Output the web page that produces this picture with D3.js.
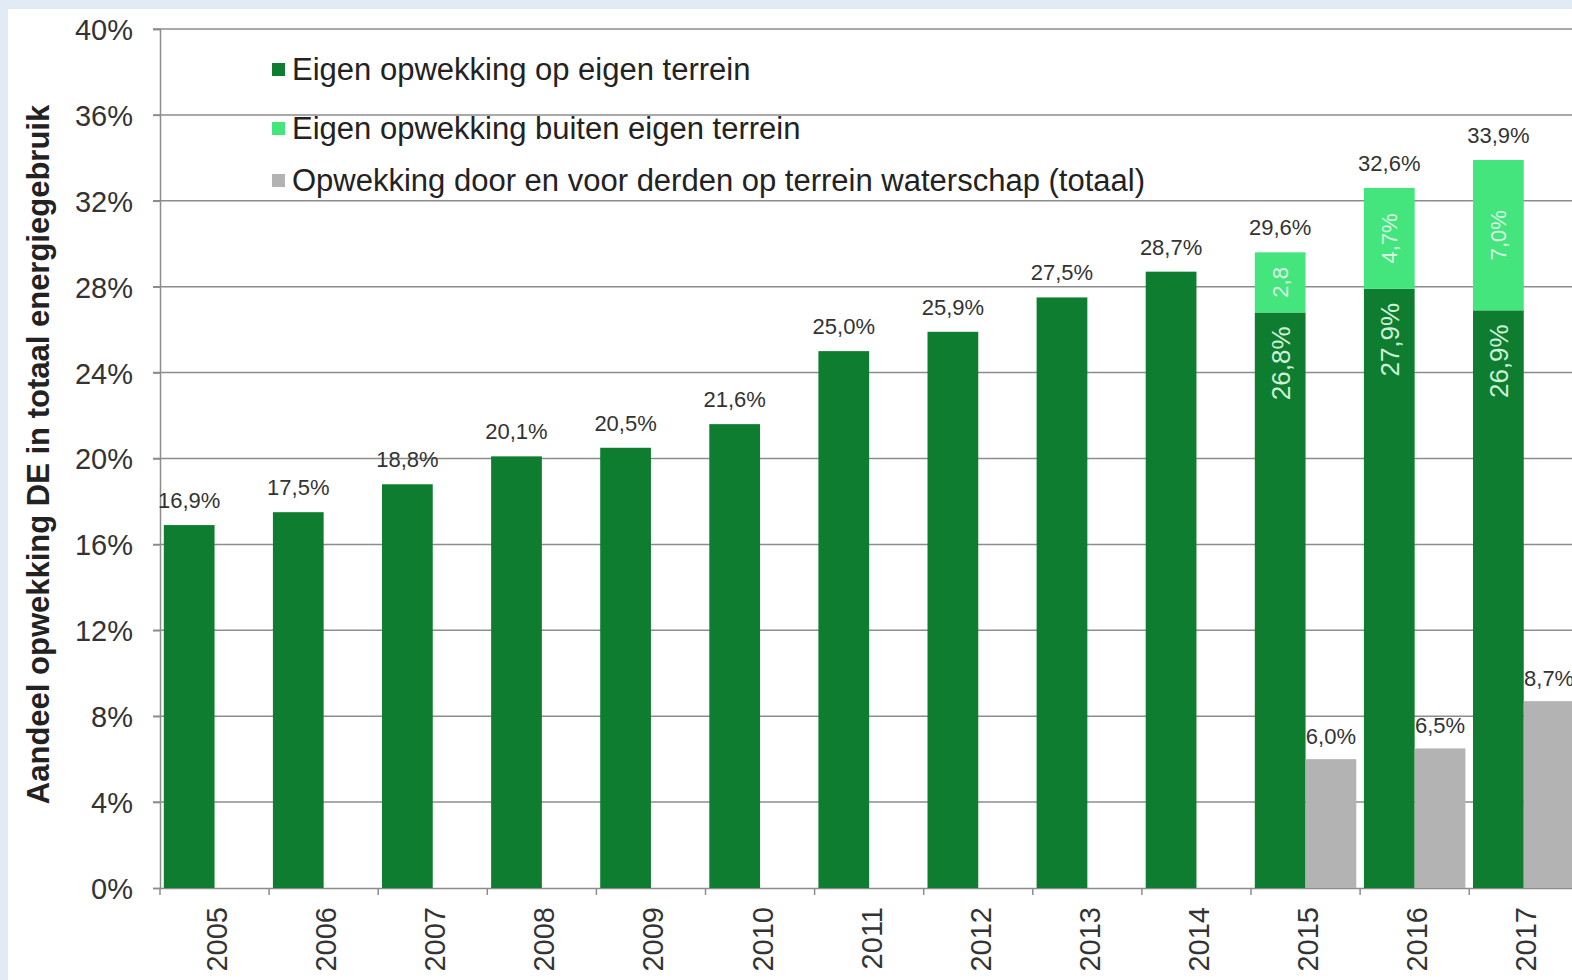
<!DOCTYPE html>
<html>
<head>
<meta charset="utf-8">
<script src="https://cdn.jsdelivr.net/npm/d3@7"></script>
<style>
  body { margin: 0; background: #e0ebf5; }
  svg { display: block; font-family: "Liberation Sans", Arial, sans-serif; }
</style>
</head>
<body>
<div id="chart"></div>
<script>
// data
const years = ['2005','2006','2007','2008','2009','2010','2011','2012','2013','2014','2015','2016','2017'];
const eigenTerrein = [16.9, 17.5, 18.8, 20.1, 20.5, 21.6, 25.0, 25.9, 27.5, 28.7, 26.8, 27.9, 26.9];
const buitenTerrein = [0, 0, 0, 0, 0, 0, 0, 0, 0, 0, 2.8, 4.7, 7.0];
const derden = [null, null, null, null, null, null, null, null, null, null, 6.0, 6.5, 8.7];
const yTicks = [0, 4, 8, 12, 16, 20, 24, 28, 32, 36, 40];
const legendLabels = [
  'Eigen opwekking op eigen terrein',
  'Eigen opwekking buiten eigen terrein',
  'Opwekking door en voor derden op terrein waterschap (totaal)'
];
const colors = ['#0f7d30', '#45e57e', '#b3b3b3'];

const fmt = v => v.toFixed(1).replace('.', ',');

const width = 1572, height = 980;
const margin = { top: 29, left: 160, bottom: 92 };

const svg = d3.select('#chart')
  .append('svg')
  .attr('width', width)
  .attr('height', height);

svg.append('rect')
  .attr('x', 8).attr('y', 9)
  .attr('width', width - 8).attr('height', height - 9)
  .attr('fill', '#fff');

const x = d3.scaleBand()
  .domain(years)
  .range([margin.left, margin.left + 109.1 * years.length]);

const inner = d3.scaleBand()
  .domain(['a', 'b'])
  .range([0, x.bandwidth()])
  .paddingOuter(0.075)
  .paddingInner(0);

const y = d3.scaleLinear()
  .domain([0, 40])
  .range([height - margin.bottom, margin.top]);

// gridlines
svg.append('g')
  .selectAll('line')
  .data(yTicks.slice(1))
  .join('line')
  .attr('x1', margin.left - 7)
  .attr('x2', width)
  .attr('y1', d => y(d))
  .attr('y2', d => y(d))
  .attr('stroke', '#8c8c8c')
  .attr('stroke-width', 1.5);

// y axis
const yAxis = svg.append('g')
  .attr('transform', `translate(${margin.left},0)`)
  .call(d3.axisLeft(y).tickValues(yTicks).tickSize(7).tickPadding(20).tickFormat(d => d + '%'));
yAxis.select('.domain').attr('stroke', '#8c8c8c').attr('stroke-width', 1.5);
yAxis.selectAll('.tick line').attr('stroke', '#8c8c8c').attr('stroke-width', 1.5);
yAxis.selectAll('.tick text')
  .attr('fill', '#333')
  .style('font-size', '29px')
  .attr('dy', '0.36em');

// x axis
const xAxis = svg.append('g')
  .attr('transform', `translate(0,${y(0)})`)
  .call(d3.axisBottom(x).tickSize(0).tickSizeOuter(0));
xAxis.select('.domain').attr('stroke', '#8c8c8c').attr('stroke-width', 1.5);
xAxis.selectAll('.tick text')
  .attr('fill', '#333')
  .style('font-size', '29px')
  .attr('text-anchor', 'end')
  .attr('transform', 'rotate(-90)')
  .attr('x', -19)
  .attr('y', 2)
  .attr('dy', '0.36em');

// x tick marks between categories
svg.append('g')
  .selectAll('line')
  .data(years)
  .join('line')
  .attr('x1', d => x(d))
  .attr('x2', d => x(d))
  .attr('y1', y(0))
  .attr('y2', y(0) + 7)
  .attr('stroke', '#8c8c8c')
  .attr('stroke-width', 1.5);

const rows = years.map((yr, i) => ({
  year: yr,
  own: eigenTerrein[i],
  outside: buitenTerrein[i],
  third: derden[i]
}));

const bars = svg.append('g');

// dark green segment
bars.selectAll('.own')
  .data(rows)
  .join('rect')
  .attr('x', d => x(d.year) + inner('a'))
  .attr('width', inner.bandwidth())
  .attr('y', d => y(d.own))
  .attr('height', d => y(0) - y(d.own))
  .attr('fill', colors[0]);

// light green segment
bars.selectAll('.outside')
  .data(rows.filter(d => d.outside > 0))
  .join('rect')
  .attr('x', d => x(d.year) + inner('a'))
  .attr('width', inner.bandwidth())
  .attr('y', d => y(d.own + d.outside))
  .attr('height', d => y(d.own) - y(d.own + d.outside))
  .attr('fill', colors[1]);

// grey bars
bars.selectAll('.third')
  .data(rows.filter(d => d.third != null))
  .join('rect')
  .attr('x', d => x(d.year) + inner('b'))
  .attr('width', inner.bandwidth())
  .attr('y', d => y(d.third))
  .attr('height', d => y(0) - y(d.third))
  .attr('fill', colors[2]);

// total labels
svg.append('g')
  .selectAll('text')
  .data(rows)
  .join('text')
  .attr('x', d => x(d.year) + inner('a') + inner.bandwidth() / 2)
  .attr('y', d => y(d.own + d.outside) - 17)
  .attr('text-anchor', 'middle')
  .attr('fill', '#333')
  .style('font-size', '22px')
  .text(d => fmt(d.own + d.outside) + '%');

// grey labels
svg.append('g')
  .selectAll('text')
  .data(rows.filter(d => d.third != null))
  .join('text')
  .attr('x', d => x(d.year) + inner('b') + inner.bandwidth() / 2)
  .attr('y', d => y(d.third) - 15)
  .attr('text-anchor', 'middle')
  .attr('fill', '#333')
  .style('font-size', '22px')
  .text(d => fmt(d.third) + '%');

// rotated labels inside stacked bars
const stacked = rows.filter(d => d.outside > 0);
svg.append('g')
  .selectAll('text')
  .data(stacked)
  .join('text')
  .attr('transform', d => `translate(${x(d.year) + inner('a') + inner.bandwidth() / 2},${y(d.own) + 14}) rotate(-90)`)
  .attr('text-anchor', 'end')
  .attr('dy', '0.36em')
  .attr('fill', '#cdf3d6')
  .style('font-size', '26px')
  .text(d => fmt(d.own) + '%');

svg.append('g')
  .selectAll('text')
  .data(stacked)
  .join('text')
  .attr('transform', d => `translate(${x(d.year) + inner('a') + inner.bandwidth() / 2},${y(d.own + d.outside / 2)}) rotate(-90)`)
  .attr('text-anchor', 'middle')
  .attr('dy', '0.36em')
  .attr('fill', '#d9fbe4')
  .style('font-size', '22px')
  .text(d => d.outside < 3 ? fmt(d.outside) : fmt(d.outside) + '%');

// legend
const legendY = [69, 128, 180];
const legend = svg.append('g')
  .selectAll('g')
  .data(legendLabels)
  .join('g')
  .attr('transform', (d, i) => `translate(272,${legendY[i]})`);
legend.append('rect')
  .attr('x', 0).attr('y', -6)
  .attr('width', 13).attr('height', 13)
  .attr('fill', (d, i) => colors[i]);
legend.append('text')
  .attr('x', 20)
  .attr('dy', '0.36em')
  .attr('fill', '#222')
  .style('font-size', '31px')
  .text(d => d);

// y axis title
svg.append('text')
  .attr('transform', `translate(38,${y(20) - 4}) rotate(-90)`)
  .attr('text-anchor', 'middle')
  .attr('dy', '0.36em')
  .attr('fill', '#222')
  .style('font-size', '31px')
  .style('font-weight', 'bold')
  .text('Aandeel opwekking DE in totaal energiegebruik');
</script>
</body>
</html>
